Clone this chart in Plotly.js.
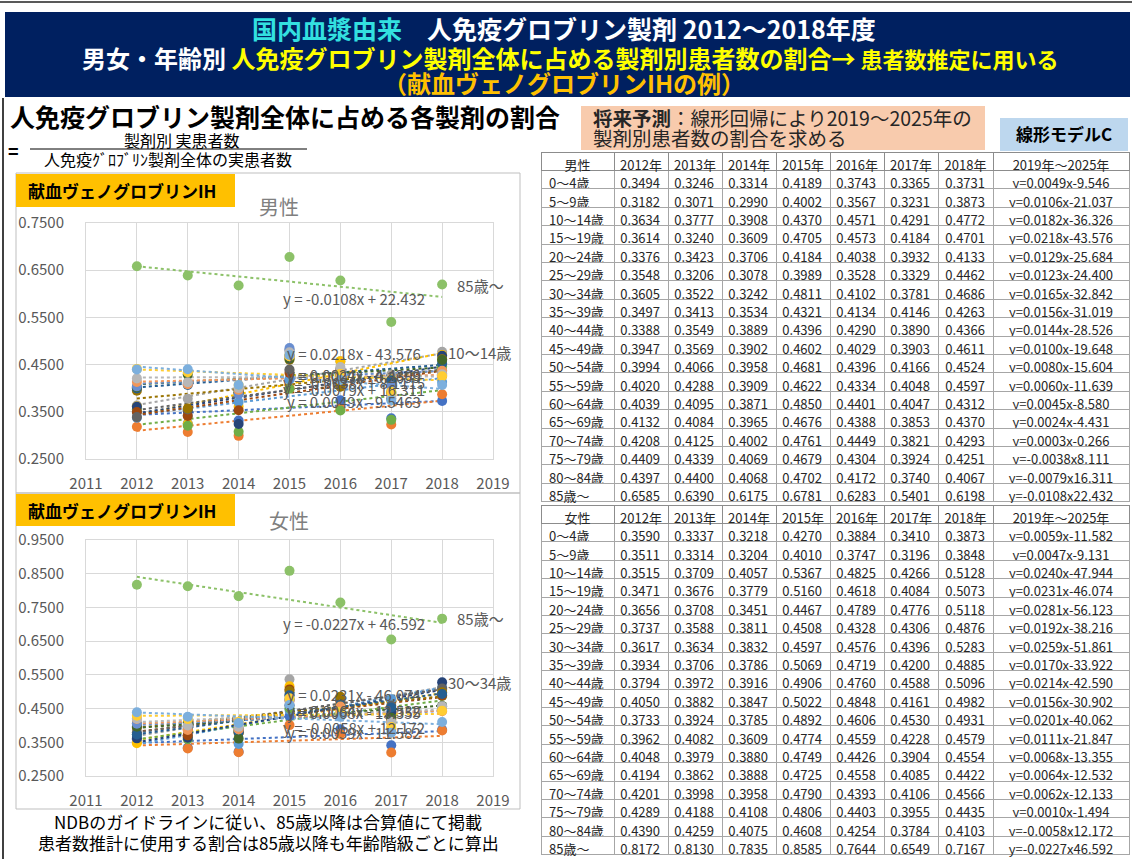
<!DOCTYPE html>
<html>
<head>
<meta charset="utf-8">
<script src="https://cdn.plot.ly/plotly-3.0.1.min.js"></script>
<style>
  html, body { margin: 0; padding: 0; background: #fff; }
  #slide { width: 1132px; height: 859px; }
</style>
</head>
<body>
<div id="slide"></div>
<script>
const years = [2012, 2013, 2014, 2015, 2016, 2017, 2018];
const yearLabels = ['2012年', '2013年', '2014年', '2015年', '2016年', '2017年', '2018年'];
const ageGroups = ['0〜4歳', '5〜9歳', '10〜14歳', '15〜19歳', '20〜24歳', '25〜29歳', '30〜34歳',
    '35〜39歳', '40〜44歳', '45〜49歳', '50〜54歳', '55〜59歳', '60〜64歳', '65〜69歳',
    '70〜74歳', '75〜79歳', '80〜84歳', '85歳〜'];

const maleRatio = [
    [0.3494, 0.3246, 0.3314, 0.4189, 0.3743, 0.3365, 0.3731],
    [0.3182, 0.3071, 0.2990, 0.4002, 0.3567, 0.3231, 0.3873],
    [0.3634, 0.3777, 0.3908, 0.4370, 0.4571, 0.4291, 0.4772],
    [0.3614, 0.3240, 0.3609, 0.4705, 0.4573, 0.4184, 0.4701],
    [0.3376, 0.3423, 0.3706, 0.4184, 0.4038, 0.3932, 0.4133],
    [0.3548, 0.3206, 0.3078, 0.3989, 0.3528, 0.3329, 0.4462],
    [0.3605, 0.3522, 0.3242, 0.4811, 0.4102, 0.3781, 0.4686],
    [0.3497, 0.3413, 0.3534, 0.4321, 0.4134, 0.4146, 0.4263],
    [0.3388, 0.3549, 0.3889, 0.4396, 0.4290, 0.3890, 0.4366],
    [0.3947, 0.3569, 0.3902, 0.4602, 0.4029, 0.3903, 0.4611],
    [0.3994, 0.4066, 0.3958, 0.4681, 0.4396, 0.4166, 0.4524],
    [0.4020, 0.4288, 0.3909, 0.4622, 0.4334, 0.4048, 0.4597],
    [0.4039, 0.4095, 0.3871, 0.4850, 0.4401, 0.4047, 0.4312],
    [0.4132, 0.4084, 0.3965, 0.4676, 0.4388, 0.3853, 0.4370],
    [0.4208, 0.4125, 0.4002, 0.4761, 0.4449, 0.3821, 0.4293],
    [0.4409, 0.4339, 0.4069, 0.4679, 0.4304, 0.3924, 0.4251],
    [0.4397, 0.4400, 0.4068, 0.4702, 0.4172, 0.3740, 0.4067],
    [0.6585, 0.6390, 0.6175, 0.6781, 0.6283, 0.5401, 0.6198]
];
const maleModel = ['y=0.0049x-9.546', 'y=0.0106x-21.037', 'y=0.0182x-36.326', 'y=0.0218x-43.576',
    'y=0.0129x-25.684', 'y=0.0123x-24.400', 'y=0.0165x-32.842', 'y=0.0156x-31.019',
    'y=0.0144x-28.526', 'y=0.0100x-19.648', 'y=0.0080x-15.604', 'y=0.0060x-11.639',
    'y=0.0045x-8.580', 'y=0.0024x-4.431', 'y=0.0003x-0.266', 'y=-0.0038x8.111',
    'y=-0.0079x16.311', 'y=-0.0108x22.432'];

const femaleRatio = [
    [0.3590, 0.3337, 0.3218, 0.4270, 0.3884, 0.3410, 0.3873],
    [0.3511, 0.3314, 0.3204, 0.4010, 0.3747, 0.3196, 0.3848],
    [0.3515, 0.3709, 0.4057, 0.5367, 0.4825, 0.4266, 0.5128],
    [0.3471, 0.3676, 0.3779, 0.5160, 0.4618, 0.4084, 0.5073],
    [0.3656, 0.3708, 0.3451, 0.4467, 0.4789, 0.4776, 0.5118],
    [0.3737, 0.3588, 0.3811, 0.4508, 0.4328, 0.4306, 0.4876],
    [0.3617, 0.3634, 0.3832, 0.4597, 0.4576, 0.4396, 0.5283],
    [0.3934, 0.3706, 0.3786, 0.5069, 0.4719, 0.4200, 0.4885],
    [0.3794, 0.3972, 0.3916, 0.4906, 0.4760, 0.4588, 0.5096],
    [0.4050, 0.3882, 0.3847, 0.5022, 0.4848, 0.4161, 0.4982],
    [0.3733, 0.3924, 0.3785, 0.4892, 0.4606, 0.4530, 0.4931],
    [0.3962, 0.4082, 0.3609, 0.4774, 0.4559, 0.4228, 0.4579],
    [0.4048, 0.3979, 0.3880, 0.4749, 0.4426, 0.3904, 0.4554],
    [0.4194, 0.3862, 0.3888, 0.4725, 0.4558, 0.4085, 0.4422],
    [0.4201, 0.3998, 0.3958, 0.4790, 0.4393, 0.4106, 0.4566],
    [0.4289, 0.4188, 0.4108, 0.4806, 0.4403, 0.3955, 0.4435],
    [0.4390, 0.4259, 0.4075, 0.4608, 0.4254, 0.3784, 0.4103],
    [0.8172, 0.8130, 0.7835, 0.8585, 0.7644, 0.6549, 0.7167]
];
const femaleModel = ['y=0.0059x-11.582', 'y=0.0047x-9.131', 'y=0.0240x-47.944', 'y=0.0231x-46.074',
    'y=0.0281x-56.123', 'y=0.0192x-38.216', 'y=0.0259x-51.861', 'y=0.0170x-33.922',
    'y=0.0214x-42.590', 'y=0.0156x-30.902', 'y=0.0201x-40.062', 'y=0.0111x-21.847',
    'y=0.0068x-13.355', 'y=0.0064x-12.532', 'y=0.0062x-12.133', 'y=0.0010x-1.494',
    'y=-0.0058x12.172', 'y=-0.0227x46.592'];

// trendline labels that Excel printed on the charts
const maleEqLabels = ['y = -0.0108x + 22.432', 'y = 0.0218x - 43.576', 'y = 0.0024x - 4.4309',
    'y = 0.0003x - 0.2659', 'y = -0.0038x + 8.1115', 'y = -0.0079x + 16.311', 'y = 0.0049x - 9.5463'];
const femaleEqLabels = ['y = -0.0227x + 46.592', 'y = 0.0231x - 46.074', 'y = 0.0064x - 12.532',
    'y = 0.0068x - 13.355', 'y = -0.0058x + 12.172', 'y = 0.0059x - 11.582'];

// office default palette, 18 series
const palette = ['#4472C4', '#ED7D31', '#A5A5A5', '#FFC000', '#5B9BD5', '#70AD47',
    '#264478', '#9E480E', '#636363', '#997300', '#255E91', '#43682B',
    '#698ED0', '#F1975A', '#B7B7B7', '#FFCD33', '#7CAFDD', '#8CC168'];

const W = 1132, H = 859;
const fx = x => x / W;
const fy = y => 1 - y / H;
const JP = '"Noto Sans CJK JP", "Noto Sans", sans-serif';

function fit(vals) {
    const n = years.length;
    const mx = years.reduce((a, b) => a + b, 0) / n;
    const my = vals.reduce((a, b) => a + b, 0) / n;
    let sxy = 0, sxx = 0;
    years.forEach((x, i) => { sxy += (x - mx) * (vals[i] - my); sxx += (x - mx) * (x - mx); });
    const b = sxy / sxx;
    return [my + b * (years[0] - mx), my + b * (years[n - 1] - mx)];
}

const traces = [];
function addSeries(ratio, xa, ya) {
    ratio.forEach((vals, i) => {
        traces.push({
            x: [years[0], years[years.length - 1]], y: fit(vals),
            xaxis: xa, yaxis: ya, mode: 'lines', type: 'scatter',
            line: { color: palette[i], dash: 'dot', width: 2 },
            hoverinfo: 'skip', showlegend: false
        });
    });
    ratio.forEach((vals, i) => {
        traces.push({
            x: years, y: vals, xaxis: xa, yaxis: ya, mode: 'markers', type: 'scatter',
            marker: { color: palette[i], size: 10 },
            hoverinfo: 'skip', showlegend: false
        });
    });
}
addSeries(maleRatio, 'x', 'y');
addSeries(femaleRatio, 'x2', 'y2');

function addTable(title, ratio, model, top, bottom) {
    const cols = [ageGroups];
    years.forEach((y, j) => cols.push(ratio.map(r => r[j].toFixed(4))));
    cols.push(model);
    traces.push({
        type: 'table',
        domain: { x: [fx(541), fx(1130)], y: [fy(bottom), fy(top)] },
        columnwidth: [73, 54, 54, 54, 54, 54, 54, 55, 136],
        header: {
            values: [title].concat(yearLabels, ['2019年〜2025年']),
            height: 18.4, align: 'center',
            line: { color: '#8C8C8C', width: 1 }, fill: { color: '#ffffff' },
            font: { family: JP, size: 13, color: '#262626' }
        },
        cells: {
            values: cols, height: 18.4,
            align: ['left', 'right', 'right', 'right', 'right', 'right', 'right', 'right', 'center'],
            line: { color: '#A6A6A6', width: 1 }, fill: { color: '#ffffff' },
            font: { family: JP, size: 13, color: '#262626' }
        }
    });
}
addTable('男性', maleRatio, maleModel, 152, 504);
addTable('女性', femaleRatio, femaleModel, 505, 857);

const gridX = {
    range: [2011, 2019], dtick: 1, showgrid: true, gridcolor: '#D9D9D9', zeroline: false,
    showline: true, mirror: true, linecolor: '#D9D9D9', ticks: '', ticklabelstandoff: 11,
    tickfont: { family: JP, size: 15, color: '#595959' }, fixedrange: true
};
const gridY = {
    tick0: 0.25, dtick: 0.1, tickformat: '.4f', showgrid: true, gridcolor: '#D9D9D9', zeroline: false,
    showline: true, mirror: true, linecolor: '#D9D9D9', ticks: '', ticklabelstandoff: 18,
    tickfont: { family: JP, size: 15, color: '#595959' }, fixedrange: true
};

const annotations = [];
function note(x, y, text, size, color, opts) {
    annotations.push(Object.assign({
        xref: 'paper', yref: 'paper', x: fx(x), y: fy(y), text: text, showarrow: false,
        xanchor: 'center', yanchor: 'middle',
        font: { family: JP, size: size, color: color }
    }, opts || {}));
}

// banner
note(564, 28, '<b><span style="color:#33E0E0">国内血漿由来</span>　人免疫グロブリン製剤 2012〜2018年度</b>', 25, '#ffffff');
note(570, 57, '<b>男女・年齢別 <span style="color:#FFFF00">人免疫グロブリン製剤全体に占める製剤別患者数の割合→</span>' +
    '<span style="color:#FFFF00;font-size:22px"> 患者数推定に用いる</span></b>', 24, '#ffffff');
note(564, 83, '<b>（献血ヴェノグロブリンIHの例）</b>', 24, '#FFC000');

// left heading and formula
note(8, 116, '<b>人免疫グロブリン製剤全体に占める各製剤の割合</b>', 25, '#000000', { xanchor: 'left' });
note(13, 150, '<b>=</b>', 18, '#000000');
note(182, 140, '製剤別 実患者数', 16, '#000000');
note(168, 159, '人免疫ｸﾞﾛﾌﾞﾘﾝ製剤全体の実患者数', 16, '#000000');

// forecast note
note(591, 117, '<b>将来予測</b>：線形回帰により2019〜2025年の', 19.5, '#262626', { xanchor: 'left' });
note(591, 138, '製剤別患者数の割合を求める', 19.5, '#262626', { xanchor: 'left' });
note(1064, 134, '<b>線形モデルC</b>', 17, '#000000');

// chart headers
note(26, 191, '<b>献血ヴェノグロブリンIH</b>', 17, '#000000', { xanchor: 'left' });
note(279, 206, '男性', 20, '#7F7F7F');
note(26, 510, '<b>献血ヴェノグロブリンIH</b>', 17, '#000000', { xanchor: 'left' });
note(289, 520, '女性', 20, '#7F7F7F');

// footnotes
note(268, 821, 'NDBのガイドラインに従い、85歳以降は合算値にて掲載', 17, '#000000');
note(268, 842, '患者数推計に使用する割合は85歳以降も年齢階級ごとに算出', 17, '#000000');

// chart labels in data coordinates
function dataNote(xa, ya, x, y, text, anchor) {
    annotations.push({
        xref: xa, yref: ya, x: x, y: y, text: text, showarrow: false,
        xanchor: anchor, yanchor: 'middle',
        font: { family: JP, size: 15, color: '#595959' }
    });
}
const maleEqY = [0.590, 0.473, 0.430, 0.424, 0.412, 0.397, 0.372];
maleEqLabels.forEach((t, i) => dataNote('x', 'y', 2016.27, maleEqY[i], t, 'center'));
dataNote('x', 'y', 2018.25, 0.618, '85歳〜', 'left');
dataNote('x', 'y', 2018.08, 0.475, '10〜14歳', 'left');

const femaleEqY = [0.701, 0.493, 0.445, 0.438, 0.395, 0.380];
femaleEqLabels.forEach((t, i) => dataNote('x2', 'y2', 2016.27, femaleEqY[i], t, 'center'));
dataNote('x2', 'y2', 2018.25, 0.718, '85歳〜', 'left');
dataNote('x2', 'y2', 2018.08, 0.526, '30〜34歳', 'left');

const shapes = [
    { type: 'line', xref: 'paper', yref: 'paper', x0: 0, x1: 1, y0: fy(2), y1: fy(2), line: { color: '#595959', width: 2 } },
    { type: 'rect', xref: 'paper', yref: 'paper', x0: fx(5), x1: fx(1130), y0: fy(97), y1: fy(12), fillcolor: '#002060', line: { width: 0 }, layer: 'below' },
    { type: 'line', xref: 'paper', yref: 'paper', x0: fx(3), x1: fx(3), y0: fy(859), y1: fy(98), line: { color: '#000000', width: 1.5 } },
    { type: 'line', xref: 'paper', yref: 'paper', x0: fx(30), x1: fx(307), y0: fy(149), y1: fy(149), line: { color: '#000000', width: 1 } },
    { type: 'rect', xref: 'paper', yref: 'paper', x0: fx(581), x1: fx(985), y0: fy(150), y1: fy(106), fillcolor: '#F8CBAD', line: { width: 0 }, layer: 'below' },
    { type: 'rect', xref: 'paper', yref: 'paper', x0: fx(1000), x1: fx(1128), y0: fy(151), y1: fy(118), fillcolor: '#BDD7EE', line: { width: 0 }, layer: 'below' },
    { type: 'rect', xref: 'paper', yref: 'paper', x0: fx(16), x1: fx(520), y0: fy(493), y1: fy(173), line: { color: '#BFBFBF', width: 1 }, layer: 'below' },
    { type: 'rect', xref: 'paper', yref: 'paper', x0: fx(16), x1: fx(520), y0: fy(809), y1: fy(493), line: { color: '#BFBFBF', width: 1 }, layer: 'below' },
    { type: 'rect', xref: 'paper', yref: 'paper', x0: fx(16), x1: fx(235), y0: fy(207), y1: fy(174), fillcolor: '#FFC000', line: { width: 0 }, layer: 'below' },
    { type: 'rect', xref: 'paper', yref: 'paper', x0: fx(16), x1: fx(235), y0: fy(526), y1: fy(494), fillcolor: '#FFC000', line: { width: 0 }, layer: 'below' }
];

const layout = {
    width: W, height: H,
    margin: { l: 0, r: 0, t: 0, b: 0 },
    paper_bgcolor: '#ffffff', plot_bgcolor: '#ffffff',
    showlegend: false,
    xaxis: Object.assign({}, gridX, { domain: [fx(86), fx(493)], anchor: 'y' }),
    yaxis: Object.assign({}, gridY, { domain: [fy(459), fy(223)], range: [0.25, 0.75], anchor: 'x' }),
    xaxis2: Object.assign({}, gridX, { domain: [fx(86), fx(493)], anchor: 'y2' }),
    yaxis2: Object.assign({}, gridY, { domain: [fy(776), fy(540)], range: [0.25, 0.95], anchor: 'x2' }),
    annotations: annotations,
    shapes: shapes
};

Plotly.newPlot('slide', traces, layout, { staticPlot: true, displayModeBar: false });
</script>
</body>
</html>
